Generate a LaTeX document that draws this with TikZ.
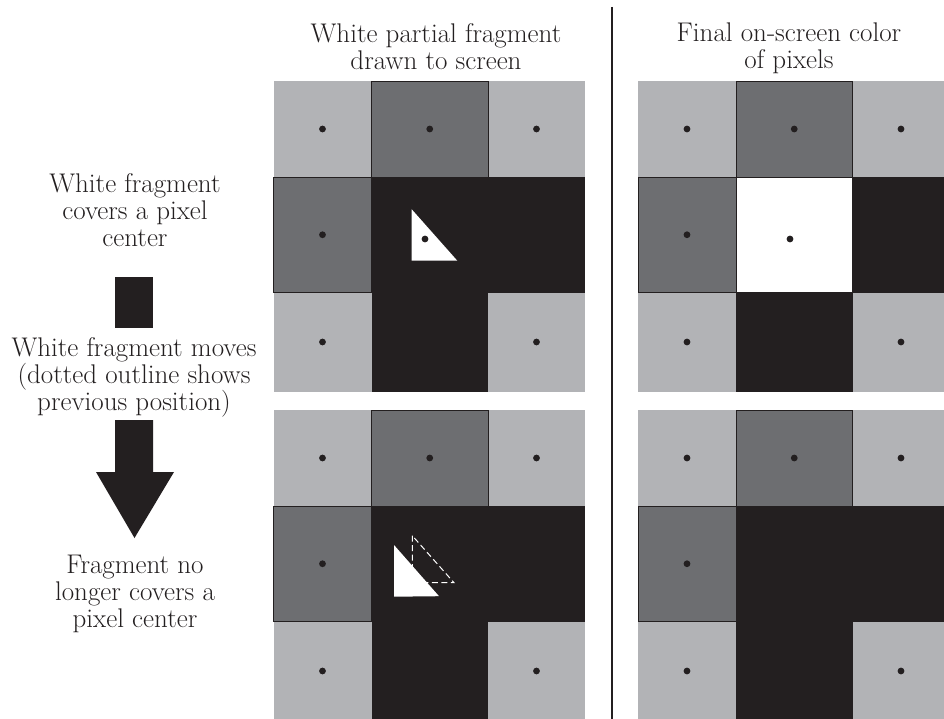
\documentclass[tikz,border=0pt]{standalone}
\usepackage{xcolor}
\usepackage{tikz}
\usetikzlibrary{positioning}
\definecolor{pixlight}{HTML}{B2B3B6}
\definecolor{pixdark}{HTML}{6D6E71}
\definecolor{pixblack}{HTML}{231F20}

\tikzset{
  caption/.style={align=center, inner sep=0pt, anchor=north, text=pixblack,
    font=\fontsize{27}{27}\selectfont},
  cellline/.style={draw=pixblack, line width=0.8pt},
}

\begin{document}
\begin{tikzpicture}[x=1pt, y=-1pt]
  \clip (0,0) rectangle (944,719);

  % Pixel grids (top: fragment covers centre, bottom: after the move)
  \foreach \gx/\gy/\cfill in {273.5/81/pixblack, 638/81/white, 273.5/410/pixblack, 638/410/pixblack} {
    \begin{scope}[shift={(\gx,\gy)}]
      \fill[pixlight] (0,0) rectangle (98,96);
      \fill[pixlight] (214.5,0) rectangle (311.5,96);
      \fill[pixlight] (0,211.5) rectangle (98,310.5);
      \fill[pixlight] (214.5,211.5) rectangle (311.5,310.5);
      \fill[pixblack] (98,96) rectangle (311.5,211.5);
      \fill[pixblack] (98,211.5) rectangle (214.5,310.5);
      \draw[cellline, fill=\cfill] (98,96) rectangle (214.5,211.5);
      \draw[cellline, fill=pixdark] (98,0) rectangle (214.5,96);
      \draw[cellline, fill=pixdark] (0,96) rectangle (98,211.5);
      % pixel centres
      \foreach \dx/\dy in {49/48, 156.25/48, 263/48, 49/153.75, 49/261, 263/261}
        \fill[pixblack] (\dx,\dy) circle (3.4pt);
    \end{scope}
  }

  % Fragment, first position
  \fill[white] (411.7,209.3) -- (411.7,260.7) -- (457.3,260.7) -- cycle;
  \fill[pixblack] (425,239) circle (3.4pt);
  \fill[pixblack] (790,239) circle (3.4pt);

  % Fragment after the move, old outline dashed
  \fill[white] (394,545) -- (394,596.7) -- (439,596.2) -- cycle;
  \draw[white, line width=1pt, dash pattern=on 6pt off 3.5pt]
    (412.3,535.7) -- (412.3,582.7) -- (454,582.7) -- cycle;

  % Separator
  \draw[pixblack, line width=1.4pt] (612,7) -- (612,719);

  % Step marks on the left
  \fill[pixblack] (114.5,277) rectangle (153,328);
  \fill[pixblack] (115,420) -- (153,420) -- (153,472) -- (174,472)
    -- (134.5,538) -- (96,472) -- (115,472) -- cycle;

  % Labels
  \node[caption] (titlefrag) at (436,23) {White partial fragment\\drawn to screen};
  \node[caption] (titlefinal) at (789,23) {Final on-screen color\\of pixels};
  \node[caption] (covers) at (135,173.3) {White fragment\\covers a pixel\\center};
  \node[caption] (moves) at (134,337.3) {White fragment moves\\(dotted outline shows\\previous position)};
  \node[caption] (nocover) at (135,554.5) {Fragment no\\longer covers a\\pixel center};
\end{tikzpicture}
\end{document}
